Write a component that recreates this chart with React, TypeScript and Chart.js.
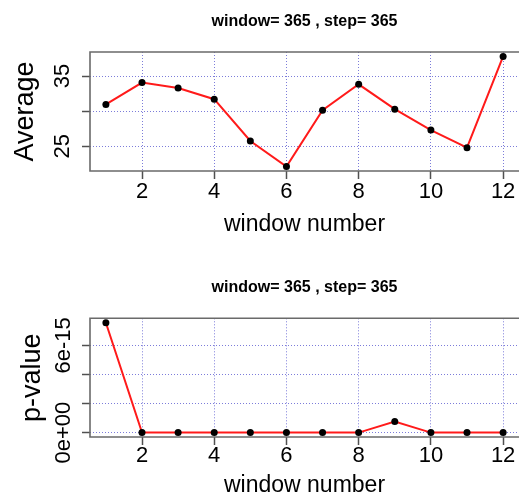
import React, { useEffect, useRef } from "react";
import { Chart, registerables } from "chart.js";

Chart.register(...registerables);

// Series read per window (x = window number)
const windowNumbers = [1, 2, 3, 4, 5, 6, 7, 8, 9, 10, 11, 12];
const averages = [30.95, 34.06, 33.3, 31.7, 25.75, 22.11, 30.14, 33.82, 30.28, 27.31, 24.8, 37.79];
const pValues = [7.56e-15, 0, 0, 0, 0, 0, 0, 0, 7.6e-16, 0, 0, 0];

// Axis ticks and their printed labels (blank = tick without label)
const xTickValues = [2, 4, 6, 8, 10, 12];
const avgTickValues = [25, 30, 35];
const avgTickLabels = ["25", "", "35"];
const pTickValues = [0, 2e-15, 4e-15, 6e-15];
const pTickLabels = ["0e+00", "", "", "6e-15"];

const panelTitle = "window= 365 , step= 365";
const xAxisTitle = "window number";

const FONT = "'Liberation Sans', Arial, Helvetica, sans-serif";
const GRID_COLOR = "rgba(80, 80, 205, 0.75)";

// R-style axis range: data range widened by 4% on each side
function paddedRange(vals: number[]): [number, number] {
  const lo = Math.min(...vals);
  const hi = Math.max(...vals);
  const d = (hi - lo) * 0.04;
  return [lo - d, hi + d];
}

// Plot frame drawn around the chart area
const framePlugin = {
  id: "plotFrame",
  afterDatasetsDraw(chart: any) {
    const { ctx, chartArea: a } = chart;
    ctx.save();
    ctx.strokeStyle = "#6a6a6a";
    ctx.lineWidth = 1.6;
    ctx.beginPath();
    ctx.moveTo(a.right, a.top);
    ctx.lineTo(a.left, a.top);
    ctx.lineTo(a.left, a.bottom);
    ctx.lineTo(a.right, a.bottom);
    ctx.stroke();
    ctx.restore();
  },
};

type PanelLayout = {
  height: number;
  titlePadTop: number;
  titlePadBottom: number;
  yTitlePad: number;
  yTickPad: number;
  xTickPad: number;
  xTitlePad: number;
  xAxisHeight: number;
};

type PanelProps = {
  values: number[];
  yTicks: number[];
  yLabels: string[];
  yTitle: string;
  layout: PanelLayout;
};

function Panel({ values, yTicks, yLabels, yTitle, layout }: PanelProps) {
  const ref = useRef<HTMLCanvasElement>(null);

  useEffect(() => {
    const [xMin, xMax] = paddedRange(windowNumbers);
    const [yMin, yMax] = paddedRange(values);
    const gridOpts = {
      color: GRID_COLOR,
      lineWidth: 1,
      borderDash: [1, 2],
      tickLength: 8,
      tickColor: "#505050",
      tickWidth: 1.5,
      tickBorderDash: [],
    };

    const chart = new Chart(ref.current as HTMLCanvasElement, {
      type: "line",
      data: {
        datasets: [
          {
            data: windowNumbers.map((x, i) => ({ x, y: values[i] })),
            borderColor: "#ff1a1a",
            borderWidth: 2,
            tension: 0,
            pointRadius: 3.5,
            pointBackgroundColor: "#000",
            pointBorderColor: "#000",
            pointBorderWidth: 0,
            clip: false as any,
          },
        ],
      },
      options: {
        animation: false,
        responsive: false,
        events: [],
        layout: { padding: 0 },
        plugins: {
          legend: { display: false },
          tooltip: { enabled: false },
          title: {
            display: true,
            text: panelTitle,
            fullSize: false,
            color: "#000",
            font: { family: FONT, size: 16, weight: "bold" },
            padding: { top: layout.titlePadTop, bottom: layout.titlePadBottom },
          },
        },
        scales: {
          x: {
            type: "linear",
            min: xMin,
            max: xMax,
            afterBuildTicks: (s: any) => {
              s.ticks = xTickValues.map((value) => ({ value }));
            },
            afterFit: (s: any) => {
              s.height = layout.xAxisHeight;
            },
            ticks: {
              autoSkip: false,
              minRotation: 0,
              maxRotation: 0,
              padding: layout.xTickPad,
              color: "#000",
              font: { family: FONT, size: 22 },
              callback: (v: any) => String(v),
            },
            grid: gridOpts as any,
            border: { display: false, dash: [1, 2] },
            title: {
              display: true,
              text: xAxisTitle,
              color: "#000",
              font: { family: FONT, size: 23 },
              padding: { top: 0, bottom: layout.xTitlePad },
            },
          },
          y: {
            type: "linear",
            min: yMin,
            max: yMax,
            afterBuildTicks: (s: any) => {
              s.ticks = yTicks.map((value) => ({ value }));
            },
            afterFit: (s: any) => {
              s.width = 90;
            },
            ticks: {
              autoSkip: false,
              minRotation: 90,
              maxRotation: 90,
              crossAlign: "center",
              padding: layout.yTickPad,
              color: "#000",
              font: { family: FONT, size: 22 },
              callback: (_v: any, i: number) => yLabels[i],
            },
            grid: gridOpts as any,
            border: { display: false, dash: [1, 2] },
            title: {
              display: true,
              text: yTitle,
              color: "#000",
              font: { family: FONT, size: 27 },
              padding: { top: layout.yTitlePad, bottom: 0 },
            },
          },
        },
      },
      plugins: [framePlugin],
    } as any);

    return () => chart.destroy();
  }, []);

  return (
    <canvas
      ref={ref}
      width={523}
      height={layout.height}
      style={{ display: "block", width: 523, height: layout.height }}
    />
  );
}

const topLayout: PanelLayout = {
  height: 250,
  titlePadTop: 11.7,
  titlePadBottom: 21.1,
  yTitlePad: 9,
  yTickPad: 7.1,
  xTickPad: 0,
  xTitlePad: 11.8,
  xAxisHeight: 79,
};

const bottomLayout: PanelLayout = {
  height: 252,
  titlePadTop: 28.2,
  titlePadBottom: 20.9,
  yTitlePad: 16.6,
  yTickPad: -12.4,
  xTickPad: -2,
  xTitlePad: 2.5,
  xAxisHeight: 65,
};

export default function App() {
  return (
    <div
      style={{
        position: "absolute",
        left: 0,
        top: 0,
        width: 523,
        height: 502,
        background: "#fff",
      }}
    >
      <Panel
        values={averages}
        yTicks={avgTickValues}
        yLabels={avgTickLabels}
        yTitle="Average"
        layout={topLayout}
      />
      <Panel
        values={pValues}
        yTicks={pTickValues}
        yLabels={pTickLabels}
        yTitle="p-value"
        layout={bottomLayout}
      />
    </div>
  );
}
